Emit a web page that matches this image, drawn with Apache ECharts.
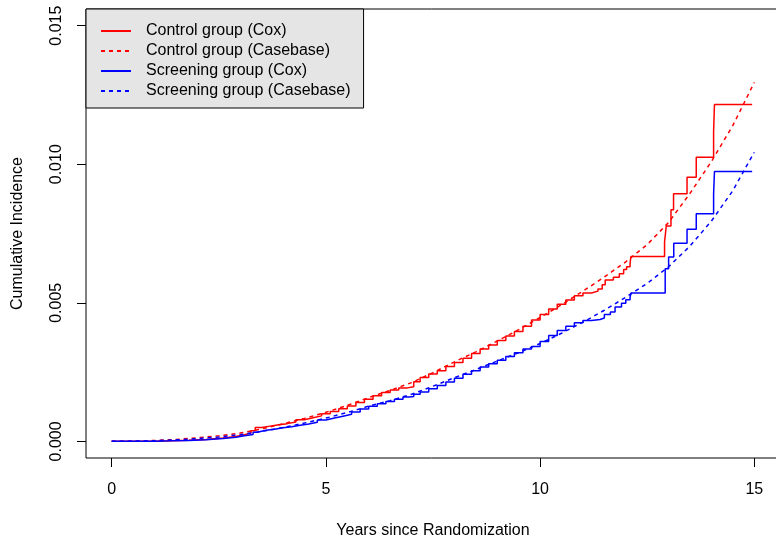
<!DOCTYPE html>
<html>
<head>
<meta charset="utf-8">
<script src="https://cdn.jsdelivr.net/npm/echarts@6/dist/echarts.min.js"></script>
<style>html,body{margin:0;padding:0;background:#fff}#c{width:776px;height:536px}</style>
</head>
<body>
<div id="c"></div>
<script>
var xTicks = [0, 5, 10, 15];
var yTicks = [0, 0.005, 0.010, 0.015];
var seriesNames = ['Control group (Cox)', 'Control group (Casebase)', 'Screening group (Cox)', 'Screening group (Casebase)'];

var controlCoxTime = [0, 0.5, 1, 1.4, 1.8, 2.2, 2.6, 2.9, 3.1, 3.25, 3.35, 3.5, 3.7, 3.9, 4.1, 4.3, 4.5, 4.7, 4.9, 5.1, 5.3, 5.5, 5.7, 5.9, 6.1, 6.3, 6.5, 6.7, 6.9, 7.05, 7.2, 7.4, 7.6, 7.8, 8.0, 8.2, 8.4, 8.6, 8.8, 9.0, 9.2, 9.4, 9.6, 9.8, 10.0, 10.2, 10.4, 10.6, 10.8, 11.0, 11.2, 11.35, 11.45, 11.52, 11.71, 11.85, 11.95, 12.02, 12.1, 12.12, 12.905, 12.945, 13.055, 13.115, 13.43, 13.645, 14.05, 14.07, 14.95];
var controlCoxValue = [0, 0.000005, 0.00002, 0.00004, 0.00007, 0.00012, 0.00018, 0.00024, 0.0003, 0.00038, 0.0005, 0.00055, 0.0006, 0.00064, 0.0007, 0.00078, 0.00085, 0.00092, 0.001, 0.00108, 0.00118, 0.00128, 0.0014, 0.00152, 0.00165, 0.00176, 0.00185, 0.00193, 0.00197, 0.00215, 0.0023, 0.00243, 0.00255, 0.0027, 0.00285, 0.003, 0.00317, 0.00333, 0.00348, 0.00364, 0.0038, 0.00396, 0.00415, 0.00438, 0.00458, 0.00478, 0.00495, 0.0051, 0.00525, 0.00535, 0.00542, 0.0055, 0.00565, 0.00582, 0.00592, 0.00605, 0.0062, 0.0063, 0.00642, 0.00667, 0.00719, 0.00777, 0.00836, 0.00893, 0.00953, 0.01025, 0.01119, 0.01215, 0.01215];

var screenCoxTime = [0, 0.5, 1, 1.4, 1.8, 2.2, 2.6, 2.9, 3.1, 3.3, 3.4, 3.6, 3.8, 4.0, 4.2, 4.4, 4.6, 4.8, 5.0, 5.2, 5.4, 5.6, 5.8, 6.0, 6.2, 6.4, 6.6, 6.8, 6.95, 7.05, 7.2, 7.4, 7.6, 7.8, 8.0, 8.2, 8.4, 8.6, 8.8, 9.0, 9.2, 9.4, 9.6, 9.8, 10.0, 10.2, 10.4, 10.6, 10.8, 11.0, 11.2, 11.4, 11.5, 11.64, 11.75, 11.9, 12.0, 12.1, 12.12, 12.92, 13.0, 13.12, 13.43, 13.645, 14.05, 14.07, 14.95];
var screenCoxValue = [0, 0.000005, 0.000018, 0.000035, 0.00006, 0.0001, 0.00015, 0.0002, 0.00025, 0.00033, 0.0004, 0.00044, 0.00049, 0.00053, 0.00058, 0.00063, 0.00069, 0.00077, 0.00084, 0.00091, 0.00098, 0.00106, 0.00117, 0.00127, 0.00136, 0.00144, 0.00152, 0.0016, 0.00162, 0.0017, 0.00178, 0.0019, 0.00202, 0.00214, 0.00228, 0.00242, 0.00255, 0.00268, 0.0028, 0.00293, 0.00306, 0.0032, 0.00333, 0.00342, 0.0036, 0.00382, 0.004, 0.00415, 0.00428, 0.00436, 0.0044, 0.00445, 0.00458, 0.00467, 0.00485, 0.00498, 0.00511, 0.0052, 0.00535, 0.00623, 0.00665, 0.00715, 0.00765, 0.00821, 0.00893, 0.00974, 0.00974];

var casebaseTime = [0, 0.5, 1, 1.5, 2, 2.5, 3, 3.5, 4, 4.5, 5, 5.5, 6, 6.5, 7, 7.5, 8, 8.5, 9, 9.5, 10, 10.5, 11, 11.5, 12, 12.5, 13, 13.5, 14, 14.5, 15];
var controlCasebaseValue = [0, 0.00001, 0.00003, 0.00007, 0.00013, 0.0002, 0.0003, 0.00045, 0.00063, 0.00083, 0.00105, 0.0013, 0.00158, 0.00184, 0.00212, 0.00248, 0.00287, 0.00323, 0.00362, 0.00403, 0.00447, 0.00493, 0.00542, 0.00593, 0.00648, 0.0071, 0.0079, 0.00895, 0.0101, 0.0114, 0.01295];
var screenCasebaseValue = [0, 0.00001, 0.000025, 0.000055, 0.0001, 0.00016, 0.00024, 0.00036, 0.0005, 0.00066, 0.00084, 0.00104, 0.00127, 0.00147, 0.0017, 0.00199, 0.0023, 0.00259, 0.0029, 0.0032, 0.00353, 0.0039, 0.0043, 0.00473, 0.0052, 0.0057, 0.0063, 0.00705, 0.00795, 0.00905, 0.01043];

function pairs(t, v) { return t.map(function (x, i) { return [x, v[i]]; }); }

var FONT = 'Liberation Sans, Arial, Helvetica, sans-serif';
var FS = 16;
var chart = echarts.init(document.getElementById('c'), null, { renderer: 'canvas' });
chart.setOption({
  animation: false,
  backgroundColor: '#ffffff',
  textStyle: { fontFamily: FONT },
  grid: { left: 86, top: 9, width: 694, height: 449, show: true, borderColor: '#000', borderWidth: 1,
    backgroundColor: 'transparent', containLabel: false, outerBoundsMode: 'none' },
  legend: {
    left: 86, top: 9, orient: 'vertical',
    backgroundColor: '#e5e5e5', borderColor: '#000', borderWidth: 1, borderRadius: 0,
    padding: [14, 13, 9, 14],
    itemWidth: 30, itemHeight: 16, itemGap: 4,
    itemStyle: { color: 'transparent', borderColor: 'transparent', borderWidth: 0, opacity: 0 },
    textStyle: { fontFamily: FONT, fontSize: FS, lineHeight: 16, color: '#000', padding: [0, 0, 0, 10] },
    selectedMode: false,
    data: seriesNames.slice()
  },
  xAxis: {
    type: 'value', min: -0.6, max: 15.6,
    name: 'Years since Randomization', nameLocation: 'middle', nameGap: 65,
    nameTextStyle: { fontFamily: FONT, fontSize: FS, color: '#000' },
    axisLine: { show: false, onZero: false },
    axisTick: { show: true, customValues: xTicks, length: 9, inside: false, lineStyle: { color: '#000', width: 1 } },
    axisLabel: { customValues: xTicks, fontFamily: FONT, fontSize: FS, color: '#000', margin: 24 },
    splitLine: { show: false }
  },
  yAxis: {
    type: 'value', min: -0.0006, max: 0.0156,
    name: 'Cumulative Incidence', nameLocation: 'middle', nameGap: 60, nameRotate: 90,
    nameTextStyle: { fontFamily: FONT, fontSize: FS, color: '#000' },
    axisLine: { show: false, onZero: false },
    axisTick: { show: true, customValues: yTicks, length: 9, lineStyle: { color: '#000', width: 1 } },
    axisLabel: { customValues: yTicks, rotate: 90, fontFamily: FONT, fontSize: FS, color: '#000', margin: 21,
      formatter: function (v) { return v.toFixed(3); } },
    splitLine: { show: false }
  },
  series: [
    { name: seriesNames[0], type: 'line', step: 'end', symbol: 'none', data: pairs(controlCoxTime, controlCoxValue),
      lineStyle: { color: '#ff0000', width: 1.5, type: 'solid' }, itemStyle: { color: '#ff0000' } },
    { name: seriesNames[1], type: 'line', smooth: false, symbol: 'none', data: pairs(casebaseTime, controlCasebaseValue),
      lineStyle: { color: '#ff0000', width: 1.5, type: [4, 4] }, itemStyle: { color: '#ff0000' } },
    { name: seriesNames[2], type: 'line', step: 'end', symbol: 'none', data: pairs(screenCoxTime, screenCoxValue),
      lineStyle: { color: '#0000ff', width: 1.5, type: 'solid' }, itemStyle: { color: '#0000ff' } },
    { name: seriesNames[3], type: 'line', smooth: false, symbol: 'none', data: pairs(casebaseTime, screenCasebaseValue),
      lineStyle: { color: '#0000ff', width: 1.5, type: [4, 4] }, itemStyle: { color: '#0000ff' } }
  ]
});
</script>
</body>
</html>
